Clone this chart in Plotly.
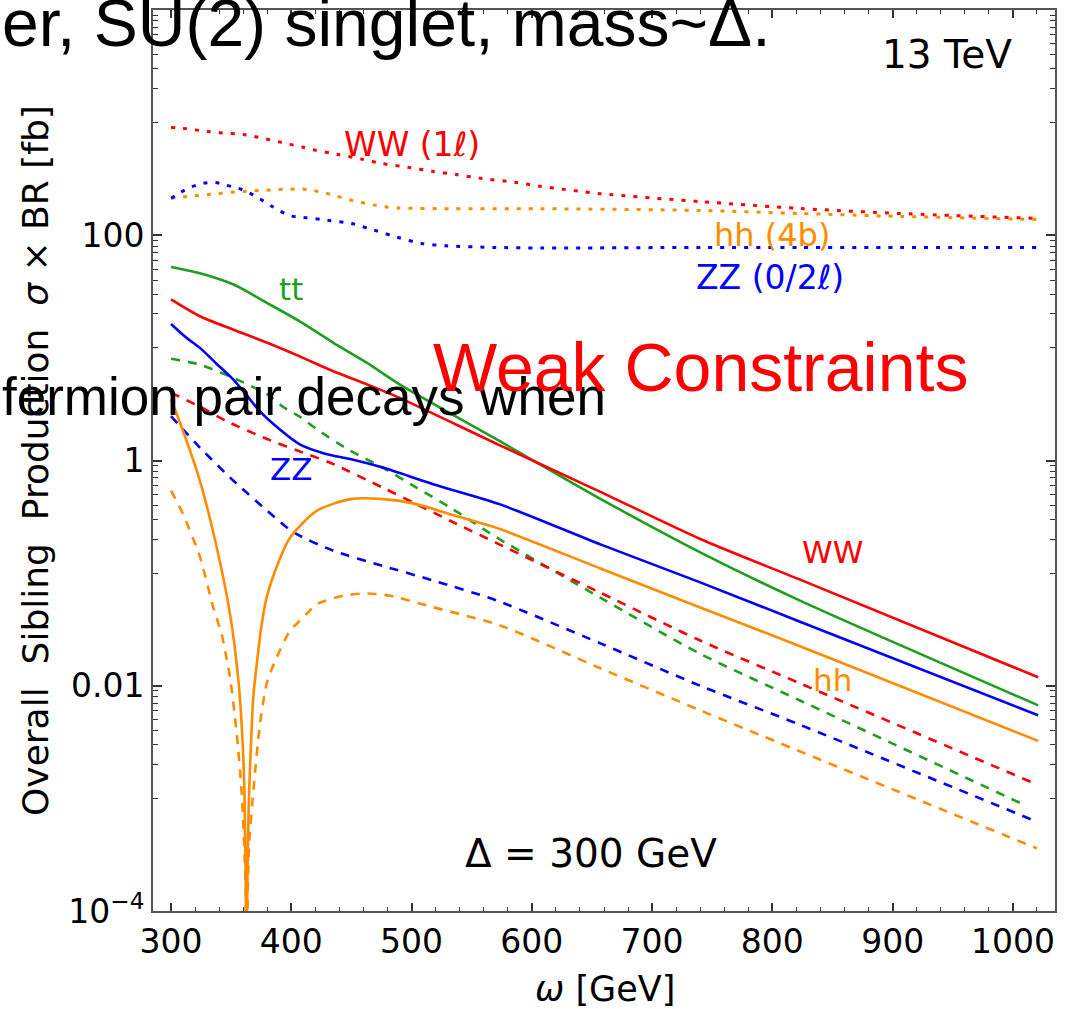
import plotly.graph_objects as go

# ---------------- data ----------------
# dotted: inclusive channels
ww1l_w = [300, 310, 330, 340, 360, 369, 379, 389, 399, 409, 418, 438, 458, 476, 497, 517, 537, 557, 587, 607, 657, 740, 823, 906, 1021]
ww1l_v = [907, 889, 836, 814, 785, 755, 716, 678, 641, 608, 575, 523, 475, 432, 401, 370, 346, 321, 294, 272, 234, 199, 173, 156, 141]

hh4b_w = [300, 310, 319, 330, 340, 350, 360, 369, 379, 389, 399, 409, 418, 428, 438, 448, 458, 468, 478, 488, 497, 527, 607, 740, 823, 906, 1021]
hh4b_v = [213, 219, 224, 229, 235, 241, 244, 248, 251, 255, 256, 258, 249, 238, 222, 207, 196, 186, 179, 175, 174, 172, 172, 166, 156, 147, 138]

zz02_w = [300, 308, 317, 327, 337, 346, 356, 365, 374, 383, 391, 400, 410, 430, 450, 469, 488, 508, 528, 568, 608, 740, 823, 906, 1021]
zz02_v = [213, 241, 269, 290, 294, 278, 261, 238, 210, 183, 163, 148, 144, 136, 127, 111, 96, 84.6, 80.7, 78, 77, 78, 78, 78, 78]

# solid: sibling production, main curves
tt_w = [300, 324, 352, 380, 407, 435, 463, 490, 573, 657, 740, 823, 1021]
tt_v = [52.3, 46, 36.5, 25, 17.2, 11.1, 7.36, 4.74, 1.49, 0.457, 0.153, 0.057, 0.0067]

ww_w = [300, 324, 352, 380, 407, 435, 463, 490, 573, 657, 740, 823, 1021]
ww_v = [27, 19.1, 14.5, 11.1, 8.4, 6.2, 4.74, 3.6, 1.37, 0.527, 0.201, 0.0875, 0.0119]

zz_w = [300, 312, 324, 338, 352, 362, 373, 390, 407, 428, 449, 476, 518, 573, 657, 740, 823, 1021]
zz_v = [16.3, 12.5, 10, 7.2, 5.2, 3.9, 2.8, 1.9, 1.39, 1.15, 1.03, 0.865, 0.616, 0.41, 0.18, 0.0828, 0.037, 0.00547]

hh_w = [300, 310, 324, 338, 349, 356, 359, 361, 362.3, 362.7, 363.2, 364.5, 365.7, 368.4, 371, 375, 379.5, 390, 399, 421, 449, 476.5, 504, 532, 573.5, 657, 740, 823, 1021]
hh_v = [3.5, 1.83, 0.66, 0.169, 0.0437, 0.0112, 0.004, 0.0012, 1e-4, 1e-6, 1e-4, 8e-4, 0.0019, 0.008, 0.0147, 0.033, 0.061, 0.13, 0.207, 0.357, 0.454, 0.454, 0.41, 0.334, 0.246, 0.11, 0.0496, 0.0224, 0.00324]

# dashed: sibling production, second set
ttd_w = [300, 324, 352, 380, 393, 407, 421, 449, 476, 504, 532, 571, 657, 740, 823, 1010]
ttd_v = [8.0, 7.1, 5.4, 3.86, 3.0, 2.45, 1.9, 1.22, 0.865, 0.575, 0.383, 0.207, 0.0605, 0.0192, 0.0074, 8.7e-4]

wwd_w = [300, 324, 346, 380, 413, 432, 476, 504, 532, 573, 657, 740, 823, 1015]
wwd_v = [4.0, 3.0, 2.24, 1.55, 1.14, 0.96, 0.575, 0.41, 0.292, 0.18, 0.067, 0.0252, 0.0105, 0.0014]

zzd_w = [300, 324, 352, 380, 402, 435, 476, 518, 571, 657, 740, 823, 1020]
zzd_v = [2.48, 1.30, 0.66, 0.358, 0.23, 0.158, 0.116, 0.086, 0.057, 0.0238, 0.01, 0.0045, 6.2e-4]

hhd_w = [300, 310, 324, 335, 342, 346, 349, 354.6, 358.8, 361.5, 362.3, 362.7, 363.5, 365, 369, 374, 379.5, 388, 399, 404.5, 415.5, 421, 443, 463, 482, 518, 573.5, 657, 740, 1020]
hhd_v = [0.54, 0.334, 0.14, 0.05, 0.029, 0.018, 0.012, 0.00376, 0.0011, 2.5e-4, 1e-4, 1e-6, 1e-4, 4e-4, 0.00135, 0.0046, 0.0104, 0.018, 0.031, 0.0355, 0.0466, 0.053, 0.063, 0.066, 0.063, 0.0498, 0.0343, 0.0143, 0.00605, 3.6e-4]

x_ticks = [300, 400, 500, 600, 700, 800, 900, 1000]
y_ticks = [1e-4, 1e-2, 1, 100, 1e4]
y_ticktext = ["10<sup>−4</sup>", "0.01", "1", "100", "10<sup>4</sup>"]

# ---------------- styling ----------------
RED = "#ff0000"
GREEN = "#1f9e1f"
BLUE = "#0000ff"
ORANGE = "#ff8c00"
DOT = "4px,8px"
DASH = "9px,8px"

W, H = 1075, 1009
L, R, T, B = 153, 1055, 8, 911


def px(x):
    return (x - L) / (R - L)


def py(y):
    return (B - y) / (B - T)


fig = go.Figure()

series = [
    (ww1l_w, ww1l_v, RED, DOT, 3.0),
    (hh4b_w, hh4b_v, ORANGE, DOT, 3.0),
    (zz02_w, zz02_v, BLUE, DOT, 3.0),
    (ttd_w, ttd_v, GREEN, DASH, 2.6),
    (wwd_w, wwd_v, RED, DASH, 2.6),
    (zzd_w, zzd_v, BLUE, DASH, 2.6),
    (hhd_w, hhd_v, ORANGE, DASH, 2.6),
    (tt_w, tt_v, GREEN, "solid", 2.6),
    (ww_w, ww_v, RED, "solid", 2.6),
    (zz_w, zz_v, BLUE, "solid", 2.6),
    (hh_w, hh_v, ORANGE, "solid", 2.6),
]
for xs, ys, c, d, w in series:
    fig.add_trace(go.Scatter(x=xs, y=ys, mode="lines", showlegend=False,
                             line=dict(color=c, width=w, dash=d, shape="spline", smoothing=0.7)))

minor_x = [v for v in range(300, 1040, 20) if v % 100 != 0]
minor_y = [k * 10.0 ** n for n in (3, 1, -1, -3) for k in range(1, 10)]

axis_common = dict(showline=True, linecolor="#555555", linewidth=2, mirror="allticks",
                   ticks="inside", tickcolor="#333333", showgrid=False, zeroline=False,
                   tickfont=dict(family="DejaVu Sans", size=33, color="black"))

fig.update_xaxes(range=[285, 1035], tickmode="array", tickvals=x_ticks, ticklen=8, tickwidth=1.5,
                 minor=dict(tickmode="array", tickvals=minor_x, ticklen=4, tickwidth=1.2,
                            ticks="inside", tickcolor="#333333"),
                 **axis_common)
fig.update_yaxes(type="log", range=[-4, 4], tickmode="array", tickvals=y_ticks, ticktext=y_ticktext,
                 ticklen=9, tickwidth=1.5,
                 minor=dict(tickmode="array", tickvals=minor_y, ticklen=5, tickwidth=1.2,
                            ticks="inside", tickcolor="#333333"),
                 **axis_common)

DV = "DejaVu Sans"
ann = [
    ("WW (1<i>ℓ</i>)", 412, 143, RED, 33, DV),
    ("hh (4b)", 772, 234, ORANGE, 32, DV),
    ("ZZ (0/2<i>ℓ</i>)", 770, 276, BLUE, 33, DV),
    ("tt", 291, 288, GREEN, 31, DV),
    ("ZZ", 291, 468, BLUE, 31, DV),
    ("WW", 832, 551, RED, 31, DV),
    ("hh", 832, 679, ORANGE, 31, DV),
    ("13 TeV", 947, 53, "black", 39, DV),
    ("Δ = 300 GeV", 591, 853, "black", 39, DV),
]
for text, x, y, c, s, f in ann:
    fig.add_annotation(text=text, x=px(x), y=py(y), xref="paper", yref="paper",
                       showarrow=False, xanchor="center", yanchor="middle",
                       font=dict(family=f, size=s, color=c))

# axis titles
fig.add_annotation(text="<i>ω</i> [GeV]", x=px(605), y=py(989), xref="paper", yref="paper",
                   showarrow=False, xanchor="center", yanchor="middle",
                   font=dict(family=DV, size=35, color="black"))
fig.add_annotation(text="Overall  Sibling  Production  <i>σ</i> × BR [fb]", x=px(36), y=py(460),
                   xref="paper", yref="paper", textangle=-90,
                   showarrow=False, xanchor="center", yanchor="middle",
                   font=dict(family=DV, size=36, color="black"))

# overlay texts
AR = "Liberation Sans"
fig.add_annotation(text="er, SU(2) singlet, mass~Δ.", x=px(0), y=py(21), xref="paper", yref="paper",
                   showarrow=False, xanchor="left", yanchor="middle",
                   font=dict(family=AR, size=66, color="black"))
fig.add_annotation(text="fermion pair decays when", x=px(0), y=py(395), xref="paper", yref="paper",
                   showarrow=False, xanchor="left", yanchor="middle",
                   font=dict(family=AR, size=53, color="black"))
fig.add_annotation(text="Weak Constraints", x=px(700), y=py(366), xref="paper", yref="paper",
                   showarrow=False, xanchor="center", yanchor="middle",
                   font=dict(family=AR, size=68, color=RED))

fig.update_layout(width=W, height=H, margin=dict(l=L, r=W - R, t=T, b=H - B),
                  paper_bgcolor="white", plot_bgcolor="white")

fig.write_html("out.html")
